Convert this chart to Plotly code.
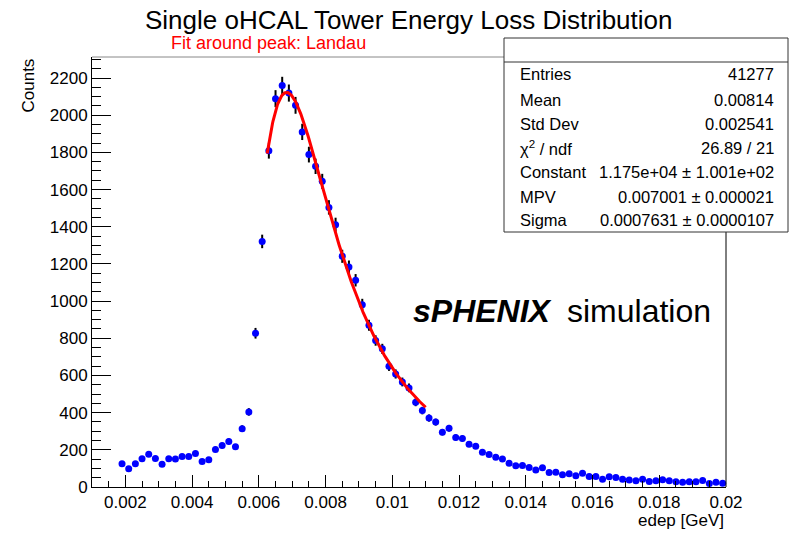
import numpy as np
import plotly.graph_objects as go

# ---------------- data ----------------
bin_lo = 0.0018      # lower edge of first filled bin (GeV)
bin_w = 0.0002       # bin width (GeV)
counts = [125, 98, 125, 152, 176, 153, 123, 152, 150, 164, 164, 180, 137, 146, 202, 223, 245, 216,
          314, 404, 827, 1321, 1809, 2089, 2160, 2119, 2053, 1910, 1788, 1725, 1644, 1504, 1411,
          1241, 1184, 1112, 981, 870, 788, 743, 650, 608, 565, 533, 456, 411, 371, 349,
          295, 316, 266, 261, 230, 219, 187, 175, 160, 151, 128, 114, 116,
          105, 92, 103, 78, 80, 66, 71, 60, 74, 57, 56, 42, 55, 51, 42, 37, 33, 42, 30, 33, 39,
          33, 28, 26, 28, 28, 35, 19, 26, 20]

# Landau fit parameters (from stats box)
fit_const = 1.175e4
fit_mpv = 0.007001
fit_sigma = 0.0007631
fit_range = [0.00625, 0.0110]

x_ticks = [0.002, 0.004, 0.006, 0.008, 0.010, 0.012, 0.014, 0.016, 0.018, 0.020]
x_ticktext = ["0.002", "0.004", "0.006", "0.008", "0.01", "0.012", "0.014", "0.016", "0.018", "0.02"]
y_ticks = [0, 200, 400, 600, 800, 1000, 1200, 1400, 1600, 1800, 2000, 2200]

stats_labels = ["Entries", "Mean", "Std Dev", "\u03c7<sup>2</sup> / ndf", "Constant", "MPV", "Sigma"]
stats_values = ["41277", "0.00814", "0.002541", "26.89 / 21", "1.175e+04 \u00b1 1.001e+02",
                "0.007001 \u00b1 0.000021", "0.0007631 \u00b1 0.0000107"]

# ---------------- derived ----------------
counts = np.array(counts, dtype=float)
xc = bin_lo + bin_w * (np.arange(len(counts)) + 0.5)
err = np.sqrt(counts)

def landau_std(lam):
    t = np.linspace(1e-9, 60, 120001)
    lam = np.atleast_1d(lam)
    out = []
    for l in lam:
        integrand = np.exp(-t * np.log(t) - l * t) * np.sin(np.pi * t)
        out.append(np.trapezoid(integrand, t) / np.pi)
    return np.array(out)

xf = np.linspace(fit_range[0], fit_range[1], 300)
yf = fit_const * landau_std((xf - fit_mpv) / fit_sigma)

# ---------------- layout geometry ----------------
W, H = 793, 533
L, R, T, B = 92, 67, 57, 46
PW, PH = W - L - R, H - T - B

def px(xp):
    return (xp - L) / PW

def py(yp):
    return (H - B - yp) / PH

FONT = "Liberation Sans, Arial, Helvetica, sans-serif"

fig = go.Figure()
fig.add_trace(go.Scatter(
    x=xc, y=counts, mode="markers",
    marker=dict(color="#0000ff", size=7, line=dict(width=0)),
    error_y=dict(type="data", array=err, color="black", thickness=2, width=0),
    showlegend=False, cliponaxis=False,
))
fig.add_trace(go.Scatter(
    x=xf, y=yf, mode="lines", line=dict(color="#ff0000", width=3),
    showlegend=False,
))

fig.update_layout(
    width=W, height=H,
    margin=dict(l=L, r=R, t=T, b=B, pad=0),
    paper_bgcolor="white", plot_bgcolor="white",
    font=dict(family=FONT, size=17, color="black"),
    xaxis=dict(
        range=[0.001, 0.020], tickmode="array", tickvals=x_ticks, ticktext=x_ticktext,
        ticks="inside", ticklen=12, tickwidth=1, tickcolor="black",
        showline=True, linecolor="black", linewidth=1, showgrid=False, zeroline=False,
        minor=dict(ticks="inside", ticklen=6, tickwidth=1, tickcolor="black",
                   tick0=0, dtick=0.0005, showgrid=False),
        tickfont=dict(family=FONT, size=17),
    ),
    yaxis=dict(
        range=[0, 2313], tickmode="array", tickvals=y_ticks,
        ticks="inside", ticklen=19, tickwidth=1, tickcolor="black",
        showline=True, linecolor="black", linewidth=1, showgrid=False, zeroline=False,
        minor=dict(ticks="inside", ticklen=9, tickwidth=1, tickcolor="black",
                   tick0=0, dtick=50, showgrid=False),
        tickfont=dict(family=FONT, size=17),
    ),
)

shapes = [
    # frame top & right
    dict(type="line", xref="paper", yref="paper", x0=0, x1=1, y0=1, y1=1,
         line=dict(color="#888888", width=1)),
    dict(type="line", xref="paper", yref="paper", x0=1, x1=1, y0=0, y1=1,
         line=dict(color="black", width=1)),
    # stats box
    dict(type="rect", xref="paper", yref="paper", x0=px(504), x1=px(788), y0=py(232), y1=py(38),
         fillcolor="white", line=dict(color="#333333", width=1), layer="above"),
    dict(type="line", xref="paper", yref="paper", x0=px(504), x1=px(788), y0=py(62), y1=py(62),
         line=dict(color="#333333", width=1), layer="above"),
]
fig.update_layout(shapes=shapes)

ann = []
ann.append(dict(text="Single oHCAL Tower Energy Loss Distribution", x=px(408), y=py(20),
                xanchor="center", yanchor="middle", font=dict(size=26)))
ann.append(dict(text="Fit around peak: Landau", x=px(169), y=py(43.5),
                xanchor="left", yanchor="middle", font=dict(size=18, color="#ff0000")))
ann.append(dict(text="Counts", x=px(27.5), y=py(57), xanchor="center", yanchor="top",
                textangle=-90, font=dict(size=17)))
ann.append(dict(text="edep [GeV]", x=px(726), y=py(520.5), xanchor="right", yanchor="middle",
                font=dict(size=17)))
ann.append(dict(text="<b><i>sPHENIX</i></b>", x=px(411), y=py(311), xanchor="left", yanchor="middle",
                font=dict(size=32)))
ann.append(dict(text="simulation", x=px(565), y=py(311), xanchor="left", yanchor="middle",
                font=dict(size=32)))
ycent = [74.3, 100, 124.3, 148.3, 172.3, 196.7, 220.3]
for lab, val, yy in zip(stats_labels, stats_values, ycent):
    ann.append(dict(text=lab, x=px(518), y=py(yy), xanchor="left", yanchor="middle",
                    font=dict(size=16.5)))
    ann.append(dict(text=val, x=px(775.5), y=py(yy), xanchor="right", yanchor="middle",
                    font=dict(size=16.5)))
for a in ann:
    a.update(xref="paper", yref="paper", showarrow=False)
fig.update_layout(annotations=ann)

fig.write_html("out.html")
